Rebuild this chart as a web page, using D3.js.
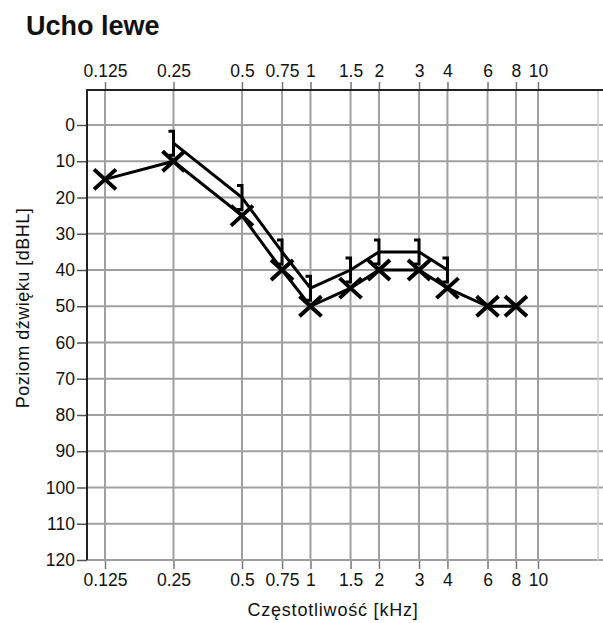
<!DOCTYPE html>
<html>
<head>
<meta charset="utf-8">
<script src="https://cdn.jsdelivr.net/npm/d3@7"></script>
<style>
  body { margin: 0; background: #fff; }
  svg text { font-family: "Liberation Sans", Arial, sans-serif; fill: #111; }
</style>
</head>
<body>
<div id="chart"></div>
<script>
// frequencies (kHz) and their tick labels
var freqs = [0.125, 0.25, 0.5, 0.75, 1, 1.5, 2, 3, 4, 6, 8, 10];
var freqLabels = ["0.125", "0.25", "0.5", "0.75", "1", "1.5", "2", "3", "4", "6", "8", "10"];
var levelTicks = [0, 10, 20, 30, 40, 50, 60, 70, 80, 90, 100, 110, 120];

// air conduction (X)
var airFreqs = [0.125, 0.25, 0.5, 0.75, 1, 1.5, 2, 3, 4, 6, 8];
var airLevels = [15, 10, 25, 40, 50, 45, 40, 40, 45, 50, 50];

// bone conduction (])
var boneFreqs = [0.25, 0.5, 0.75, 1, 1.5, 2, 3, 4];
var boneLevels = [5, 20, 35, 45, 40, 35, 35, 40];

function init() {
    var w = 603;
    var h = 623;
    var left = 87, right = 598, top = 90, bottom = 561;

    var svg = d3.select("#chart")
        .append("svg")
        .attr("width", w)
        .attr("height", h);

    var x = d3.scaleLog().base(2)
        .domain([0.125, 10])
        .range([105, 538]);

    var y = d3.scaleLinear()
        .domain([0, 120])
        .range([125, 560]);

    // title
    svg.append("text")
        .attr("x", 26)
        .attr("y", 35)
        .style("font-size", "27px")
        .style("font-weight", "bold")
        .text("Ucho lewe");

    // horizontal grid
    svg.append("g").selectAll("line")
        .data(levelTicks)
        .enter()
        .append("line")
        .attr("x1", left)
        .attr("x2", w)
        .attr("y1", function(d){ return y(d); })
        .attr("y2", function(d){ return y(d); })
        .attr("stroke", "#a0a0a0")
        .attr("stroke-width", 2);

    // vertical grid
    svg.append("g").selectAll("line")
        .data(freqs)
        .enter()
        .append("line")
        .attr("x1", function(d){ return x(d); })
        .attr("x2", function(d){ return x(d); })
        .attr("y1", top)
        .attr("y2", bottom)
        .attr("stroke", "#a0a0a0")
        .attr("stroke-width", 2);

    // right edge
    svg.append("line")
        .attr("x1", right).attr("x2", right)
        .attr("y1", top).attr("y2", bottom)
        .attr("stroke", "#d0d0d0")
        .attr("stroke-width", 1.5);

    // top and bottom frequency axes
    var topAxis = d3.axisTop(x)
        .tickValues(freqs)
        .tickFormat(function(d, i){ return freqLabels[i]; })
        .tickSize(8)
        .tickPadding(5);
    var gTop = svg.append("g")
        .attr("transform", "translate(0," + top + ")")
        .call(topAxis);

    var bottomAxis = d3.axisBottom(x)
        .tickValues(freqs)
        .tickFormat(function(d, i){ return freqLabels[i]; })
        .tickSize(8)
        .tickPadding(5);
    var gBottom = svg.append("g")
        .attr("transform", "translate(0," + bottom + ")")
        .call(bottomAxis);

    [gTop, gBottom].forEach(function(g){
        g.select(".domain").remove();
        g.selectAll(".tick line").attr("stroke", "#777").attr("stroke-width", 1.5);
        g.selectAll(".tick text")
            .style("font-size", "17.5px")
            .style("font-family", "'Liberation Sans', Arial, sans-serif")
            .attr("fill", "#111");
    });

    // top frame line (dark)
    svg.append("line")
        .attr("x1", left - 1).attr("x2", w)
        .attr("y1", top).attr("y2", top)
        .attr("stroke", "#222")
        .attr("stroke-width", 2);

    // level axis
    var leftAxis = d3.axisLeft(y)
        .tickValues(levelTicks)
        .tickSize(10)
        .tickPadding(2);
    var gLeft = svg.append("g")
        .attr("transform", "translate(" + left + ",0)")
        .call(leftAxis);
    gLeft.select(".domain").remove();
    gLeft.selectAll(".tick line").attr("stroke", "#555").attr("stroke-width", 1.5);
    gLeft.selectAll(".tick text")
        .style("font-size", "17.5px")
        .style("font-family", "'Liberation Sans', Arial, sans-serif")
        .attr("fill", "#111");

    svg.append("line")
        .attr("x1", left).attr("x2", left)
        .attr("y1", top - 1).attr("y2", y(120))
        .attr("stroke", "#222")
        .attr("stroke-width", 2);

    // axis titles
    svg.append("text")
        .attr("transform", "translate(29," + 308 + ") rotate(-90)")
        .attr("text-anchor", "middle")
        .style("font-size", "18px")
        .style("letter-spacing", "0.5px")
        .text("Poziom dźwięku [dBHL]");

    svg.append("text")
        .attr("x", 333)
        .attr("y", 616)
        .attr("text-anchor", "middle")
        .style("font-size", "18px")
        .style("letter-spacing", "0.8px")
        .text("Częstotliwość [kHz]");

    var air = airFreqs.map(function(f, i){ return { f: f, v: airLevels[i] }; });
    var bone = boneFreqs.map(function(f, i){ return { f: f, v: boneLevels[i] }; });

    var line = d3.line()
        .x(function(d){ return x(d.f); })
        .y(function(d){ return y(d.v); });

    // bone conduction line and brackets
    svg.append("path")
        .datum(bone)
        .attr("d", line)
        .attr("fill", "none")
        .attr("stroke", "#000")
        .attr("stroke-width", 3);

    svg.append("g").selectAll("path")
        .data(bone)
        .enter()
        .append("path")
        .attr("transform", function(d){ return "translate(" + x(d.f) + "," + y(d.v) + ")"; })
        .attr("d", "M-5,-12 L0,-12 L0,12 L-5,12")
        .attr("fill", "none")
        .attr("stroke", "#000")
        .attr("stroke-width", 3);

    // air conduction line and crosses
    svg.append("path")
        .datum(air)
        .attr("d", line)
        .attr("fill", "none")
        .attr("stroke", "#000")
        .attr("stroke-width", 3);

    svg.append("g").selectAll("path")
        .data(air)
        .enter()
        .append("path")
        .attr("transform", function(d){ return "translate(" + x(d.f) + "," + y(d.v) + ")"; })
        .attr("d", "M-11,-10 L11,10 M-11,10 L11,-10")
        .attr("fill", "none")
        .attr("stroke", "#000")
        .attr("stroke-width", 4);
}

window.onload = init;
</script>
</body>
</html>
